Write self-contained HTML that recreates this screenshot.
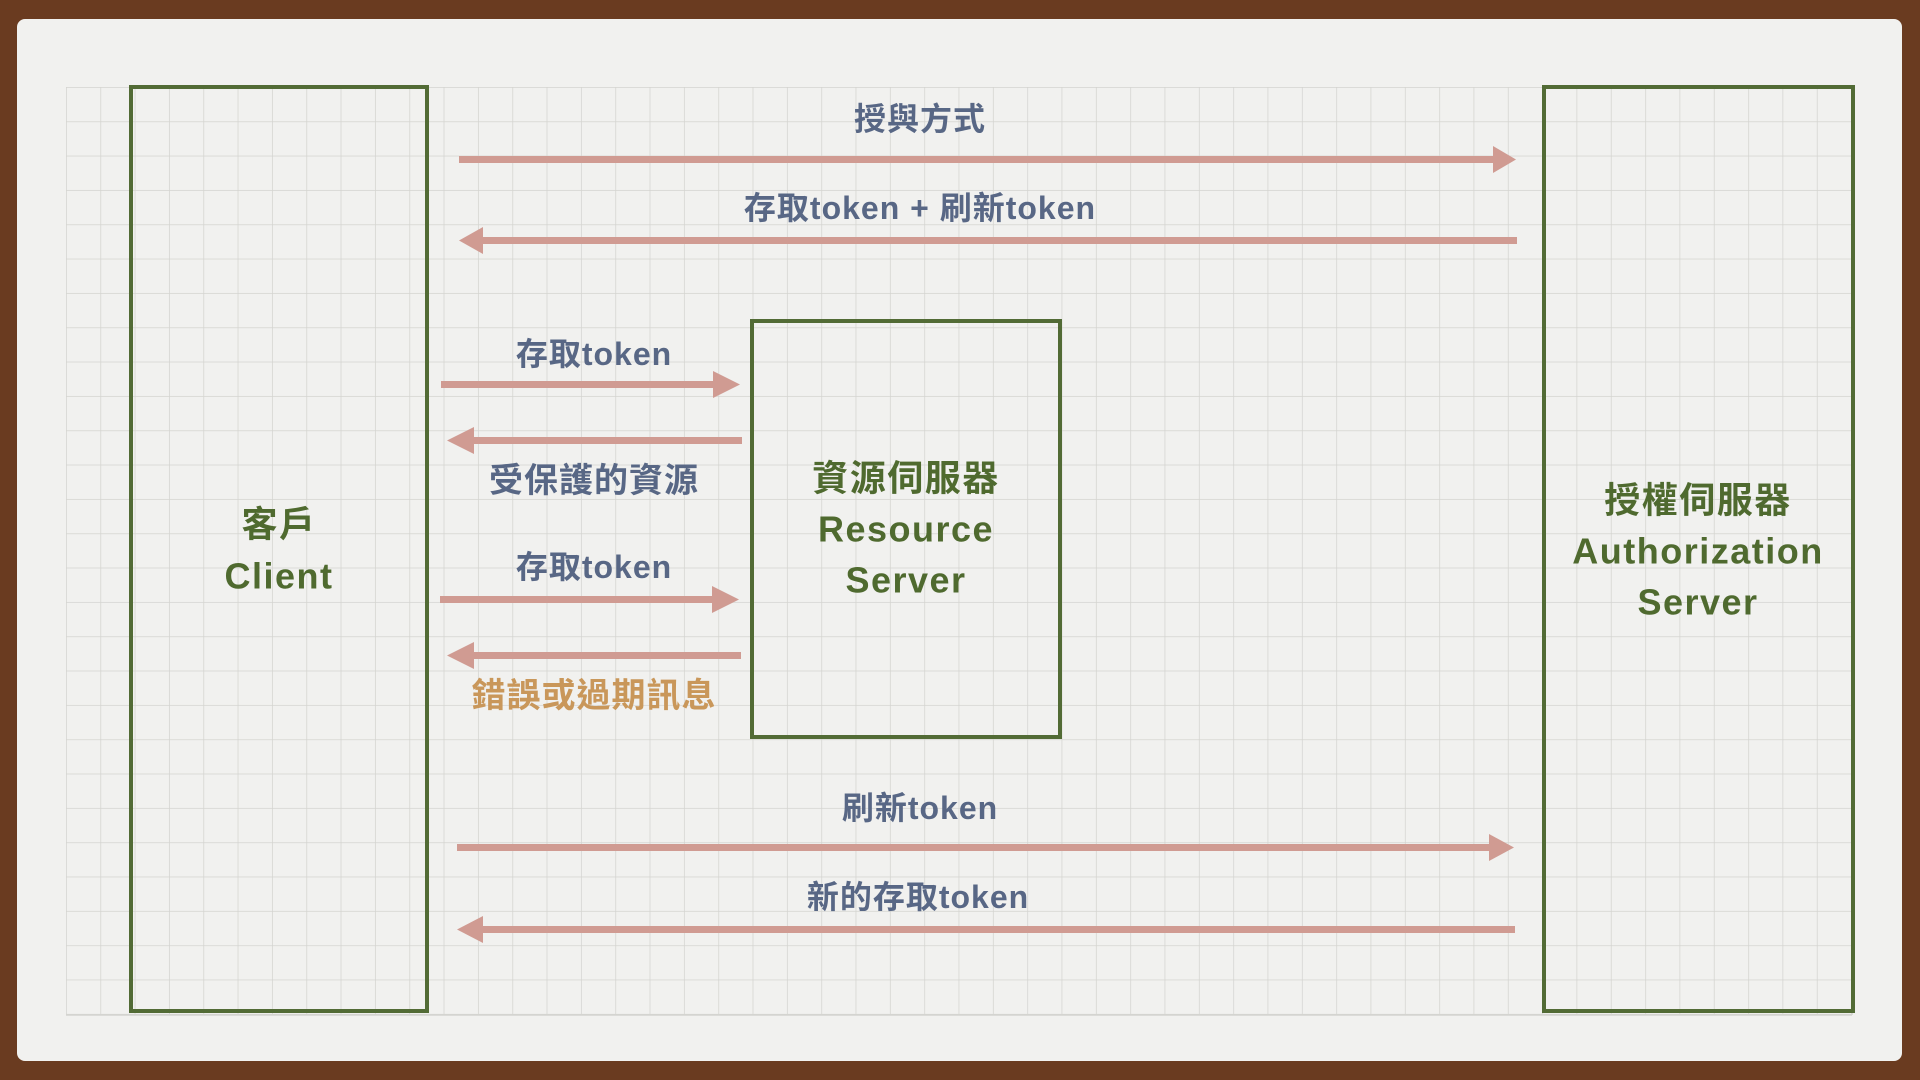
<!DOCTYPE html>
<html><head><meta charset="utf-8"><style>
html,body{margin:0;padding:0;width:1920px;height:1080px;overflow:hidden;background:#6a3b20;}
svg{display:block}
text{font-family:"Liberation Sans","Noto Sans CJK TC",sans-serif;font-weight:bold;text-anchor:middle;dominant-baseline:central}
</style></head><body>
<svg width="1920" height="1080" viewBox="0 0 1920 1080" xmlns="http://www.w3.org/2000/svg">
<defs>
<pattern id="g" x="66" y="87" width="34.33" height="34.33" patternUnits="userSpaceOnUse">
<path d="M0 0H34.33M0 0V34.33" stroke="#d4d4d0" stroke-width="1.5" fill="none"/>
</pattern>
</defs>
<rect width="1920" height="1080" fill="#6a3b20"/>
<rect x="17" y="19" width="1885" height="1042" rx="8" fill="#f1f1ef"/>
<rect x="66" y="87" width="1786" height="928" fill="url(#g)"/>
<path d="M66 1015H1852M1852 87V1015" stroke="#d4d4d0" stroke-width="1.5"/>
<g fill="none" stroke="#526b35" stroke-width="4">
<rect x="131" y="87" width="296" height="924"/>
<rect x="1544" y="87" width="309" height="924"/>
<rect x="752" y="321" width="308" height="416"/>
</g>
<g fill="#d09b92">
<rect x="459" y="156" width="1034" height="7"/><polygon points="1493,146 1516,159.5 1493,173"/>
<rect x="481" y="237" width="1036" height="7"/><polygon points="483,227 459,240.5 483,254"/>
<rect x="441" y="381" width="276" height="7"/><polygon points="713,371 740,384.5 713,398"/>
<rect x="469" y="437" width="273" height="7"/><polygon points="474,427 447,440.5 474,454"/>
<rect x="440" y="596" width="276" height="7"/><polygon points="712,586 739,599.5 712,613"/>
<rect x="469" y="652" width="272" height="7"/><polygon points="474,642 447,655.5 474,669"/>
<rect x="457" y="844" width="1036" height="7"/><polygon points="1489,834 1514,847.5 1489,861"/>
<rect x="479" y="926" width="1036" height="7"/><polygon points="483,916 457,929.5 483,943"/>
</g>
<g fill="#586785" font-size="32" letter-spacing="1">
<text x="920" y="119">授與方式</text>
<text x="920" y="208">存取token + 刷新token</text>
<text x="594" y="354">存取token</text>
<text x="594" y="481" font-size="34">受保護的資源</text>
<text x="594" y="567">存取token</text>
<text x="920" y="808">刷新token</text>
<text x="918" y="897">新的存取token</text>
</g>
<text x="594" y="696" font-size="34" fill="#c9975a" letter-spacing="1">錯誤或過期訊息</text>
<g fill="#4f6a2f" font-size="36" letter-spacing="1.5">
<text x="906" y="478">資源伺服器</text>
<text x="906" y="529">Resource</text>
<text x="906" y="580">Server</text>
<text x="279" y="524">客戶</text>
<text x="279" y="576">Client</text>
<text x="1698" y="500">授權伺服器</text>
<text x="1698" y="551">Authorization</text>
<text x="1698" y="602">Server</text>
</g>
</svg>
</body></html>
